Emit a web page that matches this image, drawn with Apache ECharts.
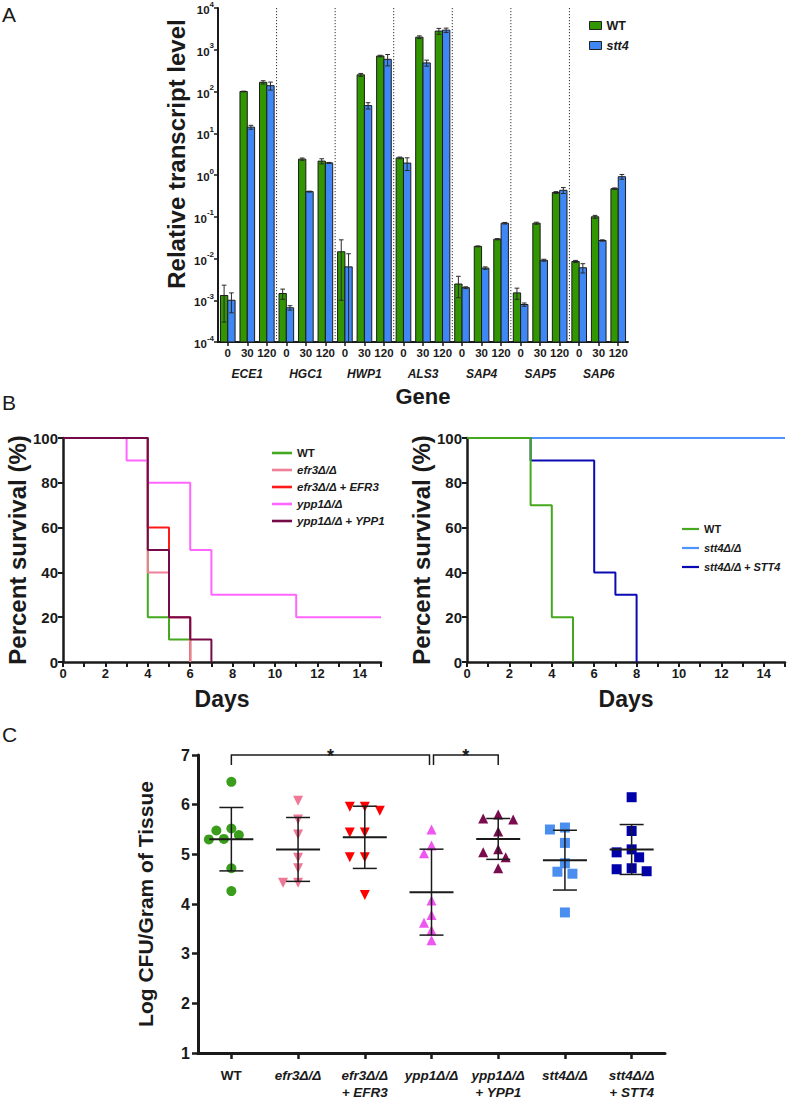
<!DOCTYPE html>
<html><head><meta charset="utf-8">
<script src="https://cdn.jsdelivr.net/npm/echarts@6/dist/echarts.min.js"></script>
<style>html,body{margin:0;padding:0;background:#fff}#c{width:788px;height:1101px}</style>
</head><body><div id="c"></div>
<script>
// ---------- Panel A data ----------
const genes = ['ECE1','HGC1','HWP1','ALS3','SAP4','SAP5','SAP6'];
const times = ['0','30','120'];
const wtMean = [1.3e-3,100,166, 1.45e-3,2.4,2.15, 0.0145,251,708, 2.57,2000,2800, 2.45e-3,0.0195,0.029, 1.5e-3,0.070,0.38, 8.5e-3,0.10,0.47];
const wtSd   = [1.0e-3,2,15, 0.4e-3,0.15,0.3, 0.0135,20,30, 0.12,150,450, 1.3e-3,0.0005,0.001, 0.45e-3,0.004,0.02, 0.5e-3,0.008,0.02];
const stMean = [1.0e-3,14,138, 6.6e-4,0.40,1.95, 0.0063,46,590, 1.93,484,2950, 2.0e-3,5.9e-3,0.070, 7.9e-4,9.1e-3,0.43, 6.0e-3,0.027,0.91];
const stSd   = [0.5e-3,1.5,30, 0.8e-4,0.01,0.05, 0.0067,8,180, 0.65,80,350, 0.1e-3,0.4e-3,0.003, 0.7e-4,0.5e-3,0.07, 1.5e-3,0.001,0.12];

// ---------- Panel B data (Kaplan-Meier steps: [day, % survival]) ----------
const kmWT_L   = [[0,100],[4,20],[5,10],[6,0]];
const kmEfr3   = [[0,100],[4,40],[5,20],[6,0]];
const kmEfr3c  = [[0,100],[4,60],[5,20],[6,0]];
const kmYpp1   = [[0,100],[3,90],[4,80],[6,50],[7,30],[11,20],[15,20]];
const kmYpp1c  = [[0,100],[4,50],[5,20],[6,10],[7,0]];
const kmWT_R   = [[0,100],[3,70],[4,20],[5,0]];
const kmStt4   = [[0,100],[15,100]];
const kmStt4c  = [[0,100],[3,90],[6,40],[7,30],[8,0]];

// ---------- Panel C data (log CFU / g tissue) ----------
const cCats = ['WT','efr3Δ/Δ','efr3Δ/Δ\n+ EFR3','ypp1Δ/Δ','ypp1Δ/Δ\n+ YPP1','stt4Δ/Δ','stt4Δ/Δ\n+ STT4'];
const cWT    = [6.46,5.52,5.48,5.39,5.31,5.30,4.72,4.26];
const cEfr3  = [6.08,5.70,5.40,4.93,4.72,4.43,4.43];
const cEfr3c = [5.96,5.96,5.88,5.44,5.44,4.94,4.94,4.18];
const cYpp1  = [5.50,5.18,5.02,4.07,3.78,3.62,3.47,3.27];
const cYpp1c = [5.80,5.72,5.70,5.46,5.10,5.04,4.94,4.72];
const cStt4  = [5.54,5.50,5.23,4.82,4.65,4.61,3.83];
const cStt4c = [6.15,5.47,5.10,5.04,4.94,4.72,4.70,4.66];
const sigPairs = [[0,3],[3,4]];

// ---------- styling ----------
const FONT = '"Liberation Sans", Arial, Helvetica, sans-serif';
const INK = '#1a1a1a';
const YMIN = 1e-4, YMAX = 1e4;
const COL = {
  aWT:'#319600', aSt:'#3f87f5',
  gWT:'#45a81e', efr3:'#f0809a', efr3c:'#ff1a1a', ypp1:'#ff66ff', ypp1c:'#760a48',
  stt4:'#4d94ff', stt4c:'#0a0ab4',
  cWT:'#3a9e1c', cEfr3:'#ee7896', cEfr3c:'#ff0000', cYpp1:'#f056f0', cYpp1c:'#7a0b4e', cStt4:'#4a8ff0', cStt4c:'#0000aa'
};

const chart = echarts.init(document.getElementById('c'), null, {renderer:'svg', width:788, height:1101});

const G = [
  {left:218, top:5, width:410, height:337},
  {left:63, top:438, width:318, height:224},
  {left:467, top:438, width:318, height:224},
  {left:198, top:755, width:467, height:307}
];

const timeCats = [];
genes.forEach(g => times.forEach(t => timeCats.push(g + '|' + t)));

function barRender(side, color){
  return function(params, api){
    const i = api.value(0), v = api.value(1), sd = api.value(2);
    const band = api.coord([1, 1])[0] - api.coord([0, 1])[0];
    const bw = band * 0.375;
    const c0 = api.coord([i, v]);
    const base = api.coord([i, YMIN]);
    const x0 = c0[0] - bw + side * bw;
    const hi = api.coord([i, v + sd]);
    const lo = api.coord([i, Math.max(v - sd, YMIN)]);
    const cx = x0 + bw / 2, cap = bw * 0.32;
    const ls = {stroke:'#2a2a2a', lineWidth:1};
    return {type:'group', children:[
      {type:'rect', shape:{x:x0, y:c0[1], width:bw, height:base[1]-c0[1]}, style:{fill:color, stroke:'#1c1c1c', lineWidth:1}},
      {type:'line', shape:{x1:cx, y1:hi[1], x2:cx, y2:lo[1]}, style:ls},
      {type:'line', shape:{x1:cx-cap, y1:hi[1], x2:cx+cap, y2:hi[1]}, style:ls},
      {type:'line', shape:{x1:cx-cap, y1:lo[1], x2:cx+cap, y2:lo[1]}, style:ls}
    ]};
  };
}

// dotted separators between gene groups
const dividerSeries = {
  type:'custom', name:'A_div', xAxisIndex:0, yAxisIndex:0, z:1, silent:true, encode:{x:0, y:1},
  data: genes.slice(1).map((g, k) => [(k + 1) * times.length, 1]),
  renderItem(params, api){
    const idx = api.value(0);
    const x = (api.coord([idx - 1, 1])[0] + api.coord([idx, 1])[0]) / 2;
    const top = api.coord([idx, YMAX])[1], bot = api.coord([idx, YMIN])[1];
    return {type:'line', shape:{x1:x, y1:top, x2:x, y2:bot}, style:{stroke:'#333', lineWidth:1, lineDash:[1.2, 1.8]}};
  }
};

function mean(a){ return a.reduce((s,x)=>s+x,0)/a.length; }
function sd(a){ const m=mean(a); return Math.sqrt(a.reduce((s,x)=>s+(x-m)*(x-m),0)/(a.length-1)); }

const pxPerUnit = G[3].height / 6;
function swarm(vals, size, step){
  const placed = [];
  const order = vals.map((v,i)=>i).sort((a,b)=>vals[b]-vals[a]);
  const off = new Array(vals.length).fill(0);
  order.forEach(idx => {
    const y = vals[idx] * pxPerUnit;
    for (let k = 0; k < 14; k++){
      const dx = (k === 0 ? 0 : (k % 2 ? -1 : 1) * Math.ceil(k/2)) * step;
      if (placed.every(p => Math.hypot(p.x - dx, p.y - y) >= size)) { off[idx] = dx; placed.push({x:dx, y}); break; }
    }
  });
  return off;
}

const cGroups = [
  {name:'C_WT', vals:cWT, color:COL.cWT, symbol:'circle', rot:0},
  {name:'C_efr3', vals:cEfr3, color:COL.cEfr3, symbol:'triangle', rot:180},
  {name:'C_efr3c', vals:cEfr3c, color:COL.cEfr3c, symbol:'triangle', rot:180},
  {name:'C_ypp1', vals:cYpp1, color:COL.cYpp1, symbol:'triangle', rot:0},
  {name:'C_ypp1c', vals:cYpp1c, color:COL.cYpp1c, symbol:'triangle', rot:0},
  {name:'C_stt4', vals:cStt4, color:COL.cStt4, symbol:'rect', rot:0},
  {name:'C_stt4c', vals:cStt4c, color:COL.cStt4c, symbol:'rect', rot:0}
];
const SYM = 10;
const scatterSeries = cGroups.map((g, gi) => {
  const off = swarm(g.vals, SYM - 0.5, 7.5);
  return {
    name:g.name, type:'scatter', xAxisIndex:4, yAxisIndex:3,
    symbol:g.symbol, symbolRotate:g.rot, symbolSize:SYM,
    itemStyle:{color:g.color, opacity:1}, z:3,
    data:g.vals.map((v,i)=>({value:[gi, v], symbolOffset:[off[i], 0]}))
  };
});

const statsSeries = {
  type:'custom', name:'C_stats', xAxisIndex:4, yAxisIndex:3, z:5,
  data: cGroups.map((g, gi) => [gi, mean(g.vals), sd(g.vals)]),
  renderItem(params, api){
    const g = api.value(0), m = api.value(1), s = api.value(2);
    const pm = api.coord([g, m]), ph = api.coord([g, m + s]), pl = api.coord([g, m - s]);
    const st = {stroke:INK, lineWidth:1.5};
    return {type:'group', children:[
      {type:'line', shape:{x1:pm[0]-22, y1:pm[1], x2:pm[0]+22, y2:pm[1]}, style:{stroke:INK, lineWidth:2}},
      {type:'line', shape:{x1:pm[0], y1:ph[1], x2:pm[0], y2:pl[1]}, style:st},
      {type:'line', shape:{x1:pm[0]-12, y1:ph[1], x2:pm[0]+12, y2:ph[1]}, style:st},
      {type:'line', shape:{x1:pm[0]-12, y1:pl[1], x2:pm[0]+12, y2:pl[1]}, style:st}
    ]};
  }
};

const bracketSeries = {
  type:'custom', name:'C_sig', xAxisIndex:4, yAxisIndex:3, z:6, clip:false,
  data: sigPairs.map(p => [p[0], p[1], 7]),
  renderItem(params, api){
    const a = api.value(0), b = api.value(1), lvl = api.value(2);
    const shared = (k) => sigPairs.filter(p => p[0] === k || p[1] === k).length > 1;
    const pa = api.coord([a, lvl]), pb = api.coord([b, lvl]);
    const x1 = pa[0] + (shared(a) ? 2 : 0), x2 = pb[0] - (shared(b) ? 2 : 0);
    const y = pa[1], leg = 10;
    return {type:'group', children:[
      {type:'polyline', shape:{points:[[x1, y+leg],[x1, y],[x2, y],[x2, y+leg]]}, style:{stroke:INK, lineWidth:1.5, fill:null}},
      {type:'text', style:{text:'*', x:(x1+x2)/2, y:y+1, align:'center', verticalAlign:'middle', fontSize:18, fontWeight:'bold', fontFamily:FONT, fill:INK}}
    ]};
  }
};

function km(name, data, color, gi, z){
  return {name, type:'line', xAxisIndex:gi + 1, yAxisIndex:gi, data, step:'end', symbol:'none', showSymbol:false,
    lineStyle:{color, width:2}, itemStyle:{color}, z: z || 2, silent:true};
}

const legendText = {
  A_WT:'{n|WT}', A_stt4:'{i|stt4}',
  L_WT:'{n|WT}', L_efr3:'{i|efr3Δ/Δ}', L_efr3c:'{i|efr3Δ/Δ + EFR3}', L_ypp1:'{i|ypp1Δ/Δ}', L_ypp1c:'{i|ypp1Δ/Δ + YPP1}',
  R_WT:'{n|WT}', R_stt4:'{i|stt4Δ/Δ}', R_stt4c:'{i|stt4Δ/Δ + STT4}'
};
function richFor(size){
  return {n:{fontSize:size, fontWeight:'bold', fontFamily:FONT, color:INK},
          i:{fontSize:size, fontWeight:'bold', fontStyle:'italic', fontFamily:FONT, color:INK}};
}

const axLine = (w) => ({show:true, lineStyle:{color:INK, width:w}});
const lbl = (size, extra) => Object.assign({color:INK, fontSize:size, fontWeight:'bold', fontFamily:FONT}, extra || {});
const lineIcon = 'path://M0,0L20,0L20,2.6L0,2.6Z';

const option = {
  animation:false,
  backgroundColor:'#ffffff',
  textStyle:{fontFamily:FONT},
  title:[
    {text:'A', left:2, top:4, padding:0, textStyle:{fontSize:21, fontWeight:'normal', color:INK, fontFamily:FONT}},
    {text:'B', left:2, top:392, padding:0, textStyle:{fontSize:21, fontWeight:'normal', color:INK, fontFamily:FONT}},
    {text:'C', left:2, top:724, padding:0, textStyle:{fontSize:21, fontWeight:'normal', color:INK, fontFamily:FONT}}
  ],
  graphic:[
    {type:'text', x:176, y:154, rotation:Math.PI/2, z:10,
     style:{text:'Relative transcript level', align:'center', verticalAlign:'middle', fontSize:24, fontWeight:'bold', fontFamily:FONT, fill:INK}}
  ],
  grid: G.map(g => Object.assign({containLabel:false}, g)),
  legend:[
    {data:['A_WT','A_stt4'], orient:'vertical', left:584, top:14, icon:'rect', itemWidth:12, itemHeight:8, itemGap:7,
     itemStyle:{borderColor:'#222', borderWidth:1}, formatter:n=>legendText[n], textStyle:{rich:richFor(12.5)}, selectedMode:false},
    {data:['L_WT','L_efr3','L_efr3c','L_ypp1','L_ypp1c'], orient:'vertical', left:272, top:446, icon:lineIcon,
     itemWidth:20, itemHeight:2.6, itemGap:3, padding:0,
     formatter:n=>legendText[n], textStyle:{rich:richFor(11.5), lineHeight:14}, selectedMode:false},
    {data:['R_WT','R_stt4','R_stt4c'], orient:'vertical', left:682, top:522, icon:lineIcon,
     itemWidth:17, itemHeight:2.6, itemGap:5, padding:0,
     formatter:n=>legendText[n], textStyle:{rich:richFor(11), lineHeight:14}, selectedMode:false}
  ],
  xAxis:[
    {gridIndex:0, type:'category', data:timeCats, boundaryGap:true,
     axisLine:axLine(2), axisTick:{show:true, alignWithLabel:true, length:4, lineStyle:{color:INK, width:1.5}},
     axisLabel:lbl(11.5, {interval:0, margin:5, formatter:v=>v.split('|')[1]}),
     splitLine:{show:false}},
    {gridIndex:0, type:'category', data:genes, position:'bottom', offset:22,
     axisLine:{show:false}, axisTick:{show:false}, splitLine:{show:false},
     axisLabel:lbl(12, {fontStyle:'italic', margin:4, interval:0}),
     name:'Gene', nameLocation:'middle', nameGap:21, nameTextStyle:lbl(22)},
    {gridIndex:1, type:'value', min:0, max:15, interval:1, axisLine:axLine(2.5),
     axisTick:{show:true, length:5, lineStyle:{color:INK, width:2}}, splitLine:{show:false},
     axisLabel:lbl(13, {margin:5, formatter:v=> v % 2 === 0 && v < 15 ? String(v) : ''}),
     name:'Days', nameLocation:'middle', nameGap:25, nameTextStyle:lbl(23)},
    {gridIndex:2, type:'value', min:0, max:15, interval:1, axisLine:axLine(2.5),
     axisTick:{show:true, length:5, lineStyle:{color:INK, width:2}}, splitLine:{show:false},
     axisLabel:lbl(13, {margin:5, formatter:v=> v % 2 === 0 && v < 15 ? String(v) : ''}),
     name:'Days', nameLocation:'middle', nameGap:25, nameTextStyle:lbl(23)},
    {gridIndex:3, type:'category', data:cCats, boundaryGap:true, axisLine:axLine(3),
     axisTick:{show:true, alignWithLabel:true, length:6, lineStyle:{color:INK, width:2.5}},
     axisLabel:{interval:0, margin:14, lineHeight:17, color:INK,
       formatter:v => v === 'WT' ? '{n|WT}' : v.split('\n').map(s => '{i|' + s + '}').join('\n'),
       rich:{n:Object.assign(lbl(13.5), {lineHeight:17}), i:Object.assign(lbl(13.5, {fontStyle:'italic'}), {lineHeight:17})}},
     splitLine:{show:false}}
  ],
  yAxis:[
    {gridIndex:0, type:'log', logBase:10, min:YMIN, max:YMAX, splitNumber:8,
     axisLine:axLine(2), axisTick:{show:true, length:4, lineStyle:{color:INK, width:1.5}}, splitLine:{show:false},
     axisLabel:{margin:4, color:INK, formatter:v => '{b|10}{s|' + Math.round(Math.log10(v)) + '}',
       rich:{b:{fontSize:11.5, fontWeight:'bold', fontFamily:FONT, color:INK, lineHeight:16, verticalAlign:'bottom'},
             s:{fontSize:8, fontWeight:'bold', fontFamily:FONT, color:INK, lineHeight:16, verticalAlign:'top'}}}},
    {gridIndex:1, type:'value', min:0, max:100, interval:20, axisLine:axLine(2.5),
     axisTick:{show:true, length:5, lineStyle:{color:INK, width:2}}, splitLine:{show:false},
     axisLabel:lbl(15, {margin:5}),
     name:'Percent survival (%)', nameLocation:'middle', nameGap:33, nameTextStyle:lbl(24)},
    {gridIndex:2, type:'value', min:0, max:100, interval:20, axisLine:axLine(2.5),
     axisTick:{show:true, length:5, lineStyle:{color:INK, width:2}}, splitLine:{show:false},
     axisLabel:lbl(15, {margin:5}),
     name:'Percent survival (%)', nameLocation:'middle', nameGap:34, nameTextStyle:lbl(24)},
    {gridIndex:3, type:'value', min:1, max:7, interval:1, axisLine:axLine(3),
     axisTick:{show:true, length:6, lineStyle:{color:INK, width:2.5}}, splitLine:{show:false},
     axisLabel:lbl(16, {margin:8}),
     name:'Log CFU/Gram of Tissue', nameLocation:'middle', nameGap:42, nameTextStyle:lbl(21)}
  ],
  series:[
    dividerSeries,
    {name:'A_WT', type:'custom', xAxisIndex:0, yAxisIndex:0, itemStyle:{color:COL.aWT}, z:2,
     data:wtMean.map((v,i)=>[i, v, wtSd[i]]), renderItem:barRender(0, COL.aWT), encode:{x:0, y:1}},
    {name:'A_stt4', type:'custom', xAxisIndex:0, yAxisIndex:0, itemStyle:{color:COL.aSt}, z:2,
     data:stMean.map((v,i)=>[i, v, stSd[i]]), renderItem:barRender(1, COL.aSt), encode:{x:0, y:1}},
    km('L_WT', kmWT_L, COL.gWT, 1, 2),
    km('L_efr3c', kmEfr3c, COL.efr3c, 1, 3),
    km('L_efr3', kmEfr3, COL.efr3, 1, 4),
    km('L_ypp1', kmYpp1, COL.ypp1, 1, 5),
    km('L_ypp1c', kmYpp1c, COL.ypp1c, 1, 6),
    km('R_stt4', kmStt4, COL.stt4, 2, 2),
    km('R_stt4c', kmStt4c, COL.stt4c, 2, 3),
    km('R_WT', kmWT_R, COL.gWT, 2, 4)
  ].concat(scatterSeries, [statsSeries, bracketSeries])
};
chart.setOption(option);
</script>
</body></html>
